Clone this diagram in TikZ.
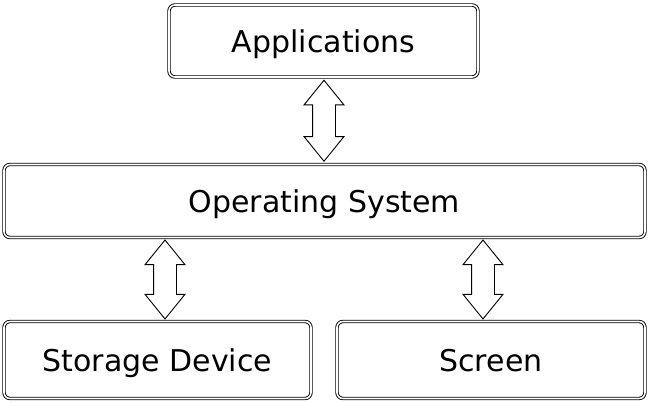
\documentclass[tikz,border=0pt]{standalone}
\usepackage{fontspec}
\setmainfont{DejaVu Sans}
\usetikzlibrary{shapes.arrows,calc}

\begin{document}
\begin{tikzpicture}[%
    x=1pt, y=-1pt,
    layer/.style={draw, double, double distance=1.6pt, line width=0.9pt,
      rounded corners=6pt, text depth=0pt, font=\fontsize{30}{36}\selectfont},
    link/.style={draw, double arrow, line width=0.9pt, fill=white,
      inner sep=11pt, double arrow head extend=8.5pt,
      double arrow tip angle=78, rotate=90}
    ]
    \useasboundingbox (0,0) rectangle (649,403);

    \node[layer, minimum width=309pt, minimum height=72pt] (app) at (323.5,41) {Applications};
    \node[layer, minimum width=641pt, minimum height=73pt] (os) at (324.5,201) {Operating System};
    \node[layer, minimum width=307pt, minimum height=77pt] (disk) at (157.5,360) {Storage Device};
    \node[layer, minimum width=308pt, minimum height=77pt] (screen) at (491,360) {Screen};

    \node[link, minimum height=81pt] (a1) at ($(app.south)!0.5!(os.north)$) {};
    \node[link, minimum height=79pt] (a2) at ($(os.south -| disk.north)!0.5!(disk.north)+(7.5,0)$) {};
    \node[link, minimum height=79pt] (a3) at ($(os.south -| screen.north)!0.5!(screen.north)+(-8,0)$) {};
\end{tikzpicture}
\end{document}
